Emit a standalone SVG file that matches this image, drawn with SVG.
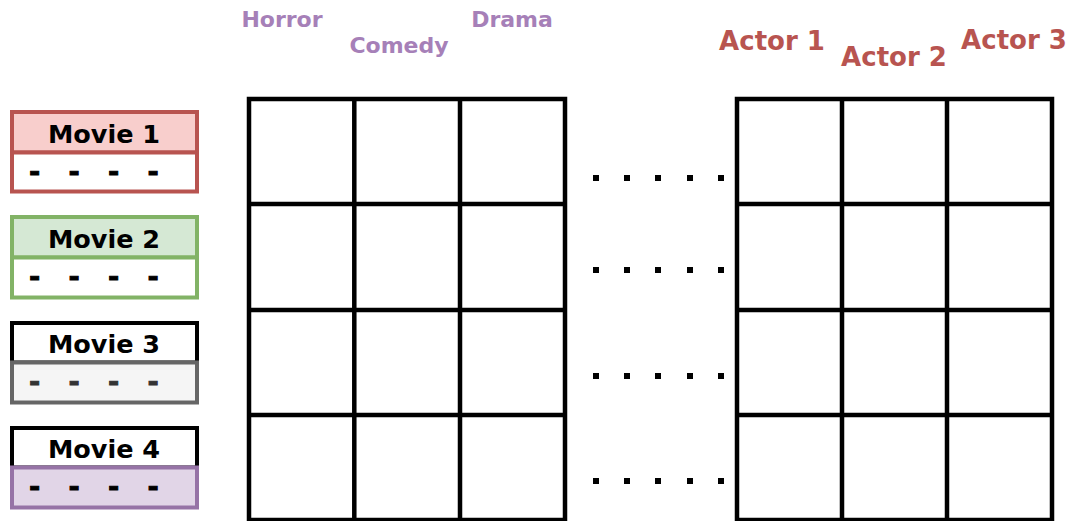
<svg xmlns="http://www.w3.org/2000/svg" width="1068" height="521" viewBox="0 0 1068 521">
<style>
text{font-family:"DejaVu Sans",Verdana,sans-serif;font-weight:bold;text-anchor:middle}
.mv{font-size:25.5px;fill:#000}
.ds{font-size:27px;stroke-width:0.9}
.gn{font-size:22px;fill:#A680B8}
.ac{font-size:26px;fill:#B85450}
.grid{fill:none;stroke:#000;stroke-width:4.5}
.dot{fill:#000}
</style>
<defs>
<g id="dotrow">
<rect class="dot" x="593" y="-3" width="6" height="6"/>
<rect class="dot" x="624" y="-3" width="6" height="6"/>
<rect class="dot" x="655" y="-3" width="6" height="6"/>
<rect class="dot" x="687" y="-3" width="6" height="6"/>
<rect class="dot" x="718" y="-3" width="6" height="6"/>
</g>
</defs>
<rect width="1068" height="521" fill="#fff"/>

<g id="genres">
<text class="gn" x="282" y="27">Horror</text>
<text class="gn" x="399" y="53">Comedy</text>
<text class="gn" x="512" y="27">Drama</text>
</g>
<g id="actors">
<text class="ac" x="772" y="50">Actor 1</text>
<text class="ac" x="894" y="66">Actor 2</text>
<text class="ac" x="1014" y="49">Actor 3</text>
</g>

<g id="movie1">
<rect x="12" y="112" width="185" height="40.5" fill="#f8cecc" stroke="#b85450" stroke-width="4"/>
<rect x="12" y="152.5" width="185" height="39" fill="#fff" stroke="#b85450" stroke-width="4"/>
<text class="mv" x="104" y="143">Movie 1</text>
<text class="ds" x="34.5 54 74 94 113.5 133 153" y="181" fill="#000" stroke="#000">- - - -</text>
</g>
<g id="movie2">
<rect x="12" y="217" width="185" height="40.5" fill="#d5e8d4" stroke="#82b366" stroke-width="4"/>
<rect x="12" y="257.5" width="185" height="40" fill="#fff" stroke="#82b366" stroke-width="4"/>
<text class="mv" x="104" y="248">Movie 2</text>
<text class="ds" x="34.5 54 74 94 113.5 133 153" y="286" fill="#000" stroke="#000">- - - -</text>
</g>
<g id="movie3">
<rect x="12" y="323" width="185" height="39.5" fill="#fff" stroke="#000" stroke-width="4"/>
<rect x="12" y="362.5" width="185" height="40" fill="#f5f5f5" stroke="#666666" stroke-width="4"/>
<text class="mv" x="104" y="353">Movie 3</text>
<text class="ds" x="34.5 54 74 94 113.5 133 153" y="391" fill="#333" stroke="#333">- - - -</text>
</g>
<g id="movie4">
<rect x="12" y="428" width="185" height="39.5" fill="#fff" stroke="#000" stroke-width="4"/>
<rect x="12" y="467.5" width="185" height="40" fill="#e1d5e7" stroke="#9673a6" stroke-width="4"/>
<text class="mv" x="104" y="458">Movie 4</text>
<text class="ds" x="34.5 54 74 94 113.5 133 153" y="496" fill="#000" stroke="#000">- - - -</text>
</g>

<g id="genre-grid">
<rect class="grid" x="249" y="99" width="316" height="421"/>
<path class="grid" d="M354.3 99V520M460 99V520M249 204H565M249 310H565M249 415H565"/>
</g>
<g id="actor-grid">
<rect class="grid" x="737" y="99" width="315" height="421"/>
<path class="grid" d="M842 99V520M947 99V520M737 204H1052M737 310H1052M737 415H1052"/>
</g>

<g id="connectors">
<use href="#dotrow" y="178"/>
<use href="#dotrow" y="270"/>
<use href="#dotrow" y="376"/>
<use href="#dotrow" y="481"/>
</g>
</svg>
